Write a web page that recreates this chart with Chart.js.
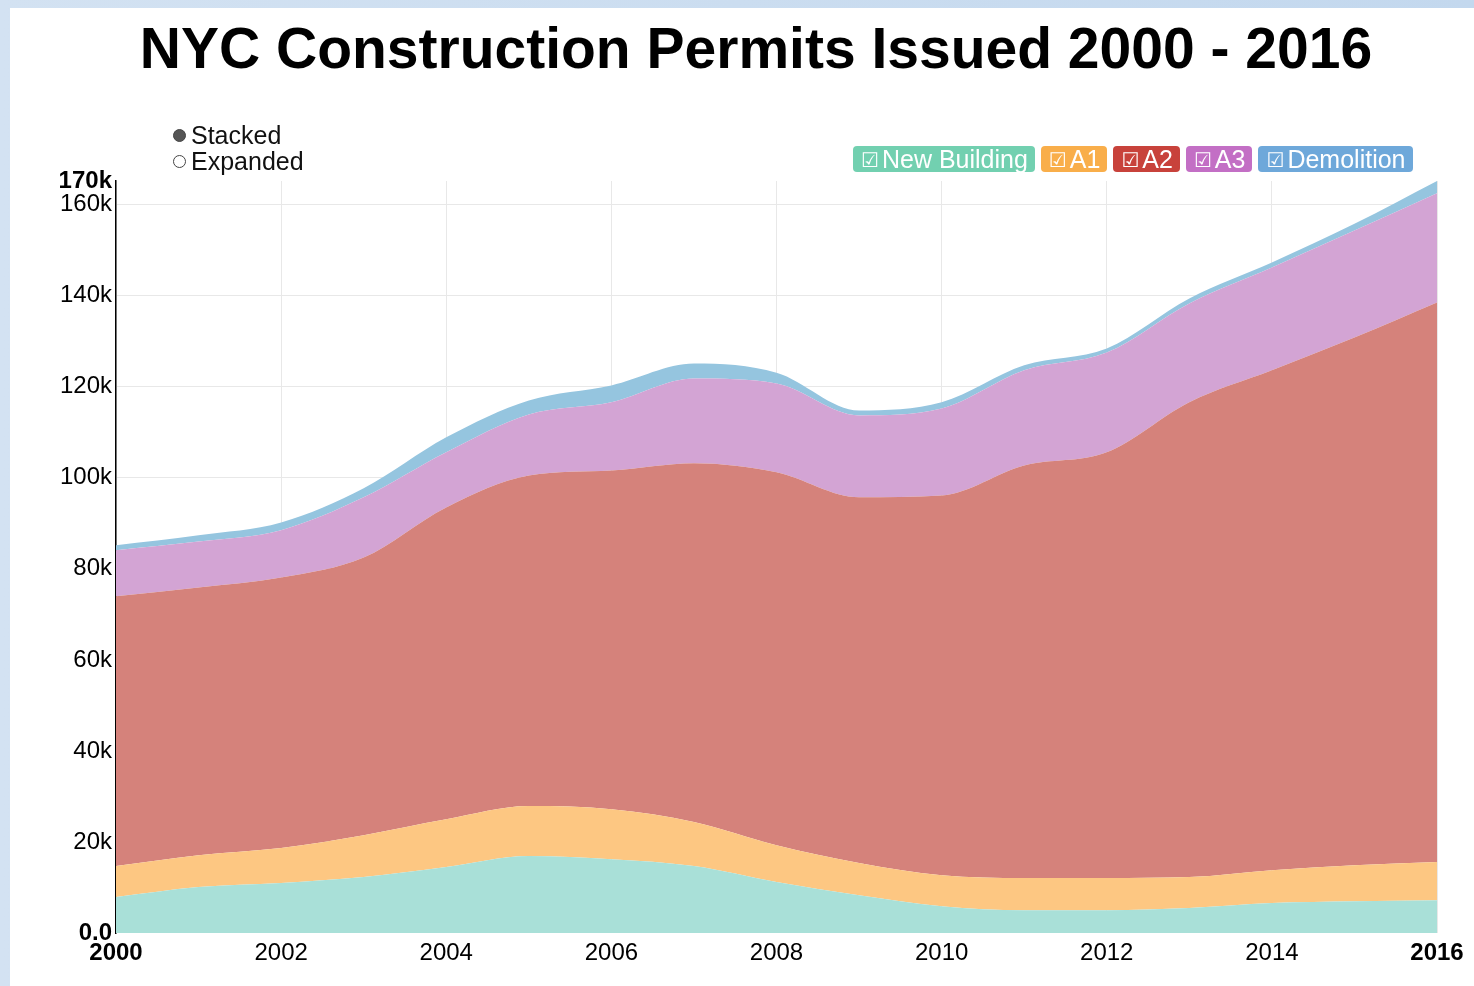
<!DOCTYPE html>
<html>
<head>
<meta charset="utf-8">
<title>NYC Construction Permits Issued 2000 - 2016</title>
<script src="https://cdn.jsdelivr.net/npm/chart.js@4.4.1/dist/chart.umd.min.js"></script>
<style>
  html, body { margin: 0; padding: 0; }
  body {
    width: 1474px; height: 986px; overflow: hidden;
    background: linear-gradient(90deg, #d3e2f2, #c3d8ee);
    font-family: 'Liberation Sans', Arial, Helvetica, sans-serif;
  }
  #panel { position: absolute; left: 10px; top: 8px; right: 0; bottom: 0; background: #fff; }
  #wrap { position: absolute; left: 0; top: 0; width: 1474px; height: 986px; }
  #title {
    position: absolute; left: 0; width: 1512px; top: 14px; text-align: center;
    font-size: 57px; font-weight: bold; color: #000; line-height: 68px; white-space: nowrap;
  }
  #legend { position: absolute; left: 853px; top: 146px; display: flex; gap: 6px; }
  .pill {
    height: 26px; line-height: 26px; padding: 0 7px 0 8px; border-radius: 4px;
    color: #fff; font-size: 25px; white-space: nowrap;
  }
  .pill .box { font-family: 'DejaVu Sans', sans-serif; font-size: 20px; vertical-align: 1px; margin-right: 3px; }
  #controls { position: absolute; left: 173px; top: 122px; font-size: 25px; color: #111; line-height: 26px; }
  #controls div { display: flex; align-items: center; }
  .dot { display: inline-block; width: 13px; height: 13px; border-radius: 50%; margin-right: 5px; box-sizing: border-box; }
  .dot.on { background: #555; border: 1.5px solid #444; }
  .dot.off { background: #fff; border: 1.5px solid #444; }
</style>
</head>
<body>
<div id="panel"></div>
<div id="title">NYC Construction Permits Issued 2000 - 2016</div>
<div id="wrap"><canvas id="myChart"></canvas></div>
<div id="controls">
  <div><span class="dot on"></span>Stacked</div>
  <div><span class="dot off"></span>Expanded</div>
</div>
<div id="legend"></div>
<script>
// Permits per year
const years = [2000, 2001, 2002, 2003, 2004, 2005, 2006, 2007, 2008, 2009, 2010, 2011, 2012, 2013, 2014, 2015, 2016];
const newBuilding = [7900, 10100, 11000, 12300, 14500, 16900, 16200, 14700, 11200, 8300, 5900, 5000, 5000, 5500, 6600, 7000, 7200];
const a1 = [6800, 7000, 7700, 9200, 10500, 11000, 11000, 9700, 8100, 7100, 6800, 7100, 7100, 6800, 7200, 7900, 8400];
const a2 = [59300, 58800, 59400, 61000, 68500, 72600, 74400, 78800, 81900, 80300, 83400, 90600, 93500, 104300, 109800, 115900, 122900];
const a3 = [10100, 10100, 10400, 13200, 12100, 13400, 15000, 18600, 19500, 18000, 19100, 20900, 21900, 21700, 22600, 23500, 24000];
const demolition = [1100, 1400, 1700, 2000, 3300, 3100, 3700, 3300, 2400, 1100, 1400, 1100, 900, 1100, 1100, 1500, 2700];

// axis ticks
const xTicks = [2000, 2002, 2004, 2006, 2008, 2010, 2012, 2014, 2016];
const yTicks = [0, 20000, 40000, 60000, 80000, 100000, 120000, 140000, 160000];

const seriesNames = ['New Building', 'A1', 'A2', 'A3', 'Demolition'];
const seriesValues = [newBuilding, a1, a2, a3, demolition];
const areaColors = ['#a9e0d8', '#fdc782', '#d5827b', '#d3a4d4', '#95c5df'];
const pillColors = ['#72d0b0', '#f9ae4a', '#c8423b', '#c36fc5', '#6ea8da'];

const totals = years.map((_, i) => seriesValues.reduce((s, arr) => s + arr[i], 0));
const yMax = Math.max(...totals);

const font = "'Liberation Sans', Arial, Helvetica, sans-serif";
const ctx = document.getElementById('myChart').getContext('2d');

const datasets = seriesNames.map((name, k) => ({
    label: name,
    data: years.map((yr, i) => ({ x: yr, y: seriesValues[k][i] })),
    backgroundColor: areaColors[k],
    borderWidth: 0,
    pointRadius: 0,
    fill: k === 0 ? 'origin' : '-1',
    cubicInterpolationMode: 'monotone'
}));

const isEnd = (v, lo, hi) => v === lo || v === hi;

const chart = new Chart(ctx, {
    type: 'line',
    data: { datasets: datasets },
    options: {
        responsive: true,
        maintainAspectRatio: false,
        animation: false,
        layout: { padding: { left: 0, right: 37, top: 181, bottom: 0 } },
        plugins: {
            legend: { display: false },
            tooltip: { enabled: false },
            title: { display: false }
        },
        scales: {
            x: {
                type: 'linear',
                min: xTicks[0],
                max: xTicks[xTicks.length - 1],
                border: { display: false },
                grid: { color: '#e8e8e8', drawTicks: false },
                afterBuildTicks: (scale) => { scale.ticks = xTicks.map(v => ({ value: v })); },
                ticks: {
                    padding: 6,
                    color: '#000',
                    autoSkip: false,
                    maxRotation: 0,
                    callback: (v) => String(v),
                    font: (c) => ({ family: font, size: 24, weight: (c.tick && isEnd(c.tick.value, 2000, 2016)) ? 'bold' : 'normal' })
                },
                afterFit: (scale) => { scale.height = 53; }
            },
            y: {
                stacked: true,
                min: 0,
                max: yMax,
                border: { display: true, color: '#000', width: 1.5 },
                grid: {
                    drawTicks: false,
                    color: (c) => (c.tick && isEnd(c.tick.value, 0, yMax)) ? 'rgba(0,0,0,0)' : '#e8e8e8'
                },
                afterBuildTicks: (scale) => { scale.ticks = yTicks.concat([yMax]).map(v => ({ value: v })); },
                ticks: {
                    padding: 4,
                    color: '#000',
                    autoSkip: false,
                    callback: (v) => v === 0 ? '0.0' : (v === yMax ? Math.round(v / 10000) * 10 + 'k' : v / 1000 + 'k'),
                    font: (c) => ({ family: font, size: 24, weight: (c.tick && isEnd(c.tick.value, 0, yMax)) ? 'bold' : 'normal' })
                },
                afterFit: (scale) => { scale.width = 116; }
            }
        }
    }
});

// HTML legend in the pill style of the original
const legendEl = document.getElementById('legend');
seriesNames.forEach((name, k) => {
    const pill = document.createElement('span');
    pill.className = 'pill';
    pill.style.background = pillColors[k];
    pill.innerHTML = '<span class="box">\u2611</span>' + name;
    legendEl.appendChild(pill);
});
</script>
</body>
</html>
